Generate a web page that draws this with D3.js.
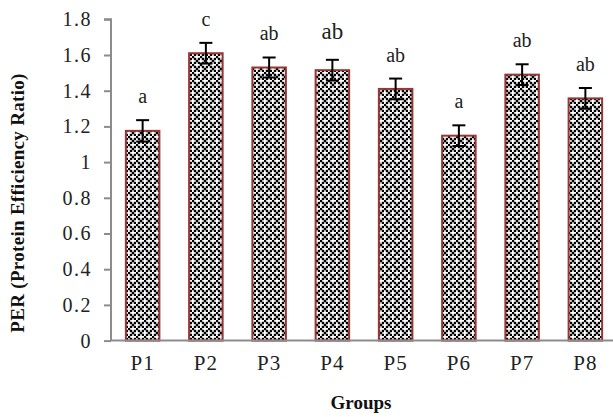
<!DOCTYPE html>
<html><head><meta charset="utf-8">
<script src="https://cdn.jsdelivr.net/npm/d3@7"></script>
<style>body{margin:0;background:#fff}svg{display:block}
text{font-family:"Liberation Serif","Times New Roman",serif !important}</style>
</head><body>
<script>
const groups = ["P1","P2","P3","P4","P5","P6","P7","P8"];
const perValues = [1.175, 1.61, 1.53, 1.515, 1.41, 1.148, 1.49, 1.357];
const errors = [0.06, 0.058, 0.056, 0.058, 0.058, 0.058, 0.058, 0.058];
const sigLetters = ["a","c","ab","ab","ab","a","ab","ab"];
const yTicks = [0,0.2,0.4,0.6,0.8,1,1.2,1.4,1.6,1.8];

const W = 613, H = 417;
const svg = d3.select("body").append("svg").attr("width", W).attr("height", H);
const m = {left:111, right:-4, top:19.3, bottom:76.4};
const SERIF = '"Liberation Serif","Times New Roman",serif';

const defs = svg.append("defs");
const pat = defs.append("pattern").attr("id","dd").attr("patternUnits","userSpaceOnUse")
  .attr("width",8).attr("height",8);
pat.append("rect").attr("width",8).attr("height",8).attr("fill","#fff");
for (let i = 0; i < 4; i++) for (let j = 0; j < 4; j++) {
  if ((i + j) % 4 === 0 || ((i - j) % 4 + 4) % 4 === 0)
    pat.append("rect").attr("x", j*2 - 0.2).attr("y", i*2 - 0.2).attr("width",2.4).attr("height",2.4).attr("fill","#000");
}

const x = d3.scaleBand().domain(groups).range([m.left, W - m.right]).paddingInner(0.47).paddingOuter(0.235);
const y = d3.scaleLinear().domain([0,1.8]).range([H - m.bottom, m.top]);

// y axis
const yAxis = svg.append("g").attr("transform",`translate(${m.left},0)`)
  .call(d3.axisLeft(y).tickValues(yTicks).tickSize(7).tickPadding(12).tickFormat(d=>d3.format("")(+d.toFixed(1))));
yAxis.attr("font-family", SERIF);
yAxis.select(".domain").attr("stroke","#8c8c8c").attr("stroke-width",2).attr("d",`M-7,${y(1.8)}H0V${y(0)}`);
yAxis.selectAll(".tick line").attr("stroke","#8c8c8c").attr("stroke-width",2);
yAxis.selectAll(".tick text").attr("font-size",20).attr("letter-spacing",1.5).attr("fill","#222");

// bars
svg.append("g").selectAll("rect").data(groups).join("rect")
  .attr("x", d=>x(d)).attr("width", x.bandwidth())
  .attr("y", (d,i)=>y(perValues[i])).attr("height",(d,i)=>y(0)-y(perValues[i]))
  .attr("fill","url(#dd)").attr("stroke","#983636").attr("stroke-width",2);

// x axis
const xAxis = svg.append("g").attr("transform",`translate(0,${y(0)})`)
  .call(d3.axisBottom(x).tickSize(0).tickPadding(14));
xAxis.attr("font-family", SERIF);
xAxis.select(".domain").attr("stroke","#8c8c8c").attr("stroke-width",2).attr("d",`M${m.left - 1},0H${W}`);
xAxis.selectAll(".tick text").attr("font-size",21).attr("letter-spacing",1).attr("fill","#222");

// error bars
const eb = svg.append("g").attr("stroke","#000").attr("stroke-width",2);
groups.forEach((g,i)=>{
  const cx = x(g) + x.bandwidth()/2;
  const y1 = y(perValues[i]+errors[i]), y0 = y(perValues[i]-errors[i]);
  eb.append("line").attr("x1",cx).attr("x2",cx).attr("y1",y1).attr("y2",y0);
  eb.append("line").attr("x1",cx-6.5).attr("x2",cx+6.5).attr("y1",y1).attr("y2",y1);
  eb.append("line").attr("x1",cx-6.5).attr("x2",cx+6.5).attr("y1",y0).attr("y2",y0);
});

// significance letters
svg.append("g").selectAll("text").data(groups).join("text")
  .attr("x", d=>x(d)+x.bandwidth()/2)
  .attr("y", (d,i)=>y(perValues[i]+errors[i]) - (i===3 ? 21 : 17))
  .attr("text-anchor","middle").attr("font-family",SERIF)
  .attr("font-size",(d,i)=> i===3 ? 23 : 20).attr("fill","#222")
  .text((d,i)=>sigLetters[i]);

// axis titles
svg.append("text").attr("x", 361).attr("y", 409).attr("text-anchor","middle")
  .attr("font-family",SERIF).attr("font-weight","bold").attr("font-size",19)
  .attr("fill","#111").text("Groups");
svg.append("text").attr("transform","translate(24,203) rotate(-90)").attr("text-anchor","middle")
  .attr("font-family",SERIF).attr("font-weight","bold").attr("font-size",19)
  .attr("letter-spacing",0.3).attr("fill","#111").text("PER (Protein Efficiency Ratio)");
</script>
</body></html>
